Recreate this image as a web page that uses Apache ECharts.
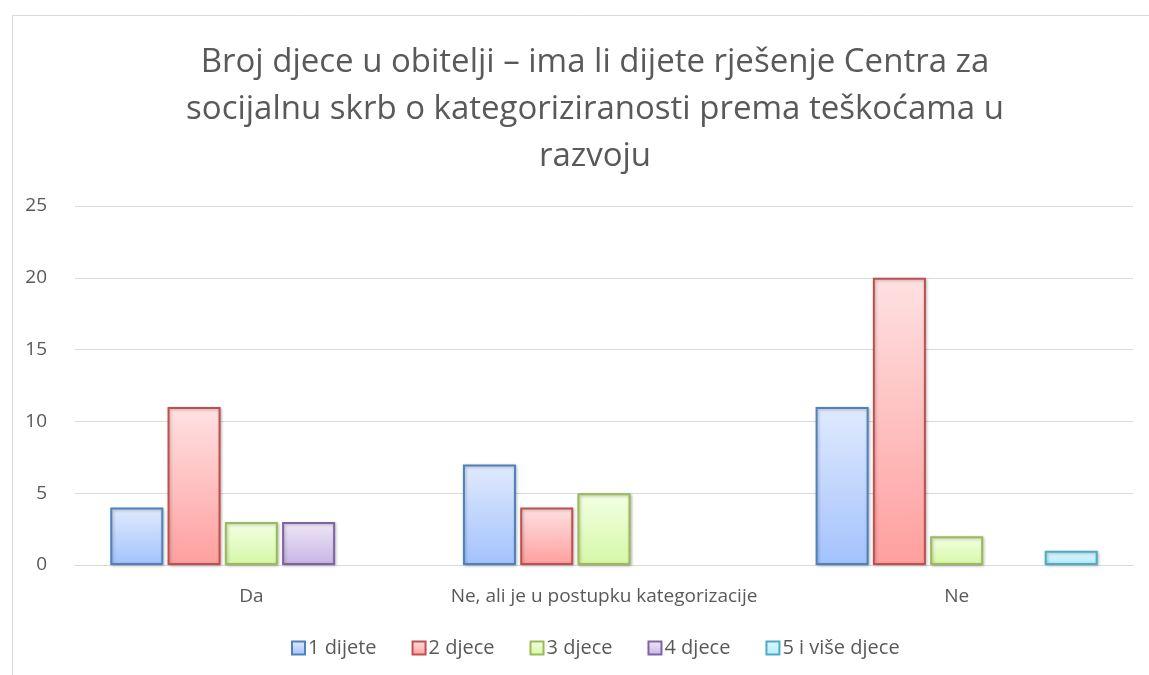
<!DOCTYPE html>
<html>
<head>
<meta charset="utf-8">
<script src="https://cdn.jsdelivr.net/npm/echarts@6/dist/echarts.min.js"></script>
<style>
  html, body { margin: 0; padding: 0; background: #fff; }
  #chart { width: 1149px; height: 675px; }
</style>
</head>
<body>
<div id="chart"></div>
<script>
// Chart data
var categories = ['Da', 'Ne, ali je u postupku kategorizacije', 'Ne'];
var seriesNames = ['1 dijete', '2 djece', '3 djece', '4 djece', '5 i više djece'];
var oneChild = [4, 7, 11];
var twoChildren = [11, 4, 20];
var threeChildren = [3, 5, 2];
var fourChildren = [3, null, null];
var fiveOrMore = [null, null, 1];
var yTicks = [0, 5, 10, 15, 20, 25];

var values = [oneChild, twoChildren, threeChildren, fourChildren, fiveOrMore];

// top colour, bottom colour, border colour
var palette = [
    ['#e0eafd', '#a3c2fc', '#4f81bd'],
    ['#fee1e2', '#ff9f9e', '#c0504d'],
    ['#f3ffe3', '#d5f8a6', '#9bbb59'],
    ['#efe8f7', '#c8b4e6', '#8064a2'],
    ['#e2f8fe', '#b2ebfb', '#4bacc6']
];

var fontFamily = '"Open Sans", sans-serif';

var chart = echarts.init(document.getElementById('chart'));

var series = [];
for (var i = 0; i < values.length; i++) {
    series.push({
        name: seriesNames[i],
        type: 'bar',
        data: values[i],
        barGap: '8%',
        barCategoryGap: '20%',
        itemStyle: {
            color: new echarts.graphic.LinearGradient(0, 0, 0, 1, [
                {offset: 0, color: palette[i][0]},
                {offset: 1, color: palette[i][1]}
            ]),
            borderColor: palette[i][2],
            borderWidth: 2,
            shadowColor: 'rgba(0,0,0,0.25)',
            shadowBlur: 3,
            shadowOffsetX: 1,
            shadowOffsetY: 1
        }
    });
}

chart.setOption({
    animation: false,
    textStyle: {
        fontFamily: fontFamily
    },
    graphic: [{
        type: 'rect',
        shape: {x: 12.5, y: 15.5, width: 1300, height: 800},
        style: {fill: 'none', stroke: '#d9d9d9', lineWidth: 1},
        silent: true
    }],
    title: {
        text: 'Broj djece u obitelji – ima li dijete rješenje Centra za\nsocijalnu skrb o kategoriziranosti prema teškoćama u\nrazvoju',
        left: 590,
        textAlign: 'center',
        top: 34,
        textStyle: {
            fontFamily: fontFamily,
            fontSize: 33,
            fontWeight: 'normal',
            color: '#595959',
            lineHeight: 47
        }
    },
    legend: {
        data: seriesNames,
        bottom: 12,
        left: 286,
        itemWidth: 13,
        itemHeight: 13,
        itemGap: 35,
        icon: 'rect',
        textStyle: {
            fontFamily: fontFamily,
            fontSize: 20,
            color: '#595959',
            padding: [0, 0, 0, -2]
        }
    },
    grid: {
        left: 75,
        right: 16,
        top: 206,
        bottom: 110
    },
    xAxis: {
        type: 'category',
        data: categories,
        axisTick: {show: false},
        axisLine: {lineStyle: {color: '#d9d9d9', width: 1}},
        axisLabel: {
            interval: 0,
            color: '#595959',
            fontSize: 19,
            margin: 22
        }
    },
    yAxis: {
        type: 'value',
        min: yTicks[0],
        max: yTicks[yTicks.length - 1],
        interval: 5,
        axisLine: {show: false},
        axisTick: {show: false},
        axisLabel: {
            color: '#595959',
            fontSize: 19,
            margin: 28,
            align: 'right'
        },
        splitLine: {
            lineStyle: {color: '#d9d9d9', width: 1}
        }
    },
    series: series
});
</script>
</body>
</html>
